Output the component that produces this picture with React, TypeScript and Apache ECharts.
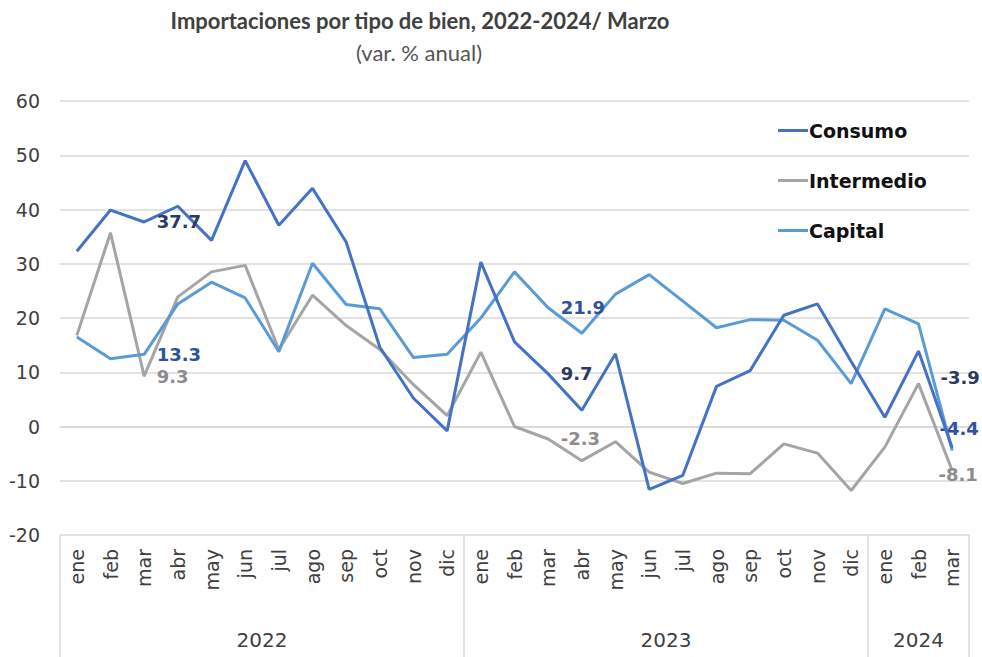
import React, { useEffect, useRef } from "react";
import * as echarts from "echarts";

const monthNames = ["ene", "feb", "mar", "abr", "may", "jun", "jul", "ago", "sep", "oct", "nov", "dic"];
const years = ["2022", "2023", "2024"];
const monthsPerYear = [12, 12, 3];
const yTicks = [-20, 60, 10];

const consumo = [32.3, 39.9, 37.7, 40.6, 34.3, 49.0, 37.1, 43.9, 34.0, 14.6, 5.2, -0.8, 30.3, 15.6, 9.7, 3.0, 13.4, -11.6, -9.0, 7.4, 10.3, 20.5, 22.6, 12.0, 1.7, 13.9, -3.9];
const intermedio = [16.8, 35.7, 9.3, 23.9, 28.5, 29.7, 14.2, 24.2, 18.6, 14.2, 7.7, 2.0, 13.7, 0.0, -2.3, -6.3, -2.8, -8.4, -10.5, -8.6, -8.7, -3.2, -4.9, -11.8, -3.8, 7.9, -8.1];
const capital = [16.5, 12.5, 13.3, 22.6, 26.6, 23.7, 13.8, 30.1, 22.5, 21.7, 12.7, 13.3, 20.0, 28.5, 21.9, 17.2, 24.4, 28.0, 23.1, 18.2, 19.7, 19.6, 15.9, 7.9, 21.7, 18.9, -4.4];

const seriesNames = ["Consumo", "Intermedio", "Capital"];
const labelIndexes = [2, 14, 26];

const categories: string[] = [];
monthsPerYear.forEach((n) => {
  for (let i = 0; i < n; i++) categories.push(monthNames[i]);
});

const FONT = "Lato, 'Open Sans', sans-serif";
const WIDE = "'DejaVu Sans', sans-serif";

export default function App() {
  const ref = useRef<HTMLDivElement>(null);

  useEffect(() => {
    document.body.style.margin = "0";
    if (!ref.current) return;
    const chart = echarts.init(ref.current, undefined, { renderer: "svg" });

    const lineColors = ["#4472C4", "#A5A5A5", "#5B9BD5"];
    const labelColors = ["#2A3B5F", "#8C8C8C", "#2F52A0"];
    // label placements (offsets from the point) for the last point
    const lastOffsets = [[8, -70], [6, 4], [7, -22]];

    const makeData = (vals: number[], s: number) =>
      vals.map((v, i) => {
        if (!labelIndexes.includes(i)) return v;
        const isLast = i === vals.length - 1;
        const common = {
          show: true,
          formatter: v.toFixed(1),
          color: labelColors[s],
          fontSize: 18,
          fontWeight: "bold",
          fontFamily: WIDE,
        };
        return {
          value: v,
          symbol: "circle",
          symbolSize: 1,
          label: isLast
            ? { ...common, position: "inside", offset: lastOffsets[s] }
            : { ...common, position: "right", distance: 12 },
        };
      });

    const allData = [consumo, intermedio, capital];

    chart.setOption({
      animation: false,
      backgroundColor: "#ffffff",
      textStyle: { fontFamily: FONT },
      title: [
        {
          text: "Importaciones por tipo de bien, 2022-2024/ Marzo",
          left: 415,
          textAlign: "center",
          top: 4,
          textStyle: { fontSize: 22, fontWeight: "bold", color: "#404040", fontFamily: FONT },
        },
        {
          text: "(var. % anual)",
          left: 414,
          textAlign: "center",
          top: 36,
          textStyle: { fontSize: 22, fontWeight: "normal", color: "#555555", fontFamily: FONT },
        },
      ],
      legend: {
        orient: "vertical",
        left: 773,
        top: 116,
        itemGap: 31,
        itemWidth: 30,
        itemHeight: 3,
        icon: "rect",
        data: seriesNames,
        textStyle: { fontSize: 19, fontWeight: "bold", color: "#111111", fontFamily: WIDE, padding: [0, 0, 0, -4] },
      },
      grid: { left: 60, right: 13, top: 101, bottom: 122, containLabel: false },
      xAxis: {
        type: "category",
        data: categories,
        boundaryGap: true,
        axisLine: { show: true, lineStyle: { color: "#D9D9D9", width: 1.5 } },
        axisTick: { show: false },
        axisLabel: {
          rotate: 90,
          interval: 0,
          margin: 14,
          fontSize: 19,
          color: "#404040",
          fontFamily: WIDE,
        },
        splitLine: { show: false },
      },
      yAxis: {
        type: "value",
        min: yTicks[0],
        max: yTicks[1],
        interval: yTicks[2],
        axisLine: { show: false },
        axisTick: { show: false },
        axisLabel: { fontSize: 19, color: "#404040", margin: 20, fontFamily: WIDE },
        splitLine: { show: true, lineStyle: { color: "#D9D9D9", width: 1.5 } },
      },
      series: seriesNames.map((name, s) => ({
        name,
        type: "line",
        data: makeData(allData[s], s),
        symbol: "none",
        showSymbol: true,
        lineStyle: { color: lineColors[s], width: 3 },
        itemStyle: { color: lineColors[s] },
        z: s === 1 ? 2 : s === 0 ? 4 : 3,
      })),
    });

    // Year group labels and separators, computed from the axis scale
    const half = (chart.convertToPixel({ xAxisIndex: 0 }, 1) as number) - (chart.convertToPixel({ xAxisIndex: 0 }, 0) as number);
    const yBottom = chart.convertToPixel({ yAxisIndex: 0 }, yTicks[0]) as number;
    const graphics: any[] = [];
    let start = 0;
    const boundaries: number[] = [];
    monthsPerYear.forEach((n, k) => {
      const x0 = (chart.convertToPixel({ xAxisIndex: 0 }, start) as number) - half / 2;
      const x1 = (chart.convertToPixel({ xAxisIndex: 0 }, start + n - 1) as number) + half / 2;
      if (k === 0) boundaries.push(x0);
      boundaries.push(x1);
      graphics.push({
        type: "text",
        x: (x0 + x1) / 2,
        y: yBottom + 105,
        style: {
          text: years[k],
          fill: "#404040",
          font: `20px ${WIDE}`,
          textAlign: "center",
          textVerticalAlign: "middle",
        },
      });
      start += n;
    });
    boundaries.forEach((bx) => {
      graphics.push({
        type: "line",
        shape: { x1: bx, y1: yBottom, x2: bx, y2: 657 },
        style: { stroke: "#D9D9D9", lineWidth: 1.5 },
      });
    });
    chart.setOption({ graphic: graphics });

    return () => chart.dispose();
  }, []);

  return <div ref={ref} style={{ width: 982, height: 657 }} />;
}
